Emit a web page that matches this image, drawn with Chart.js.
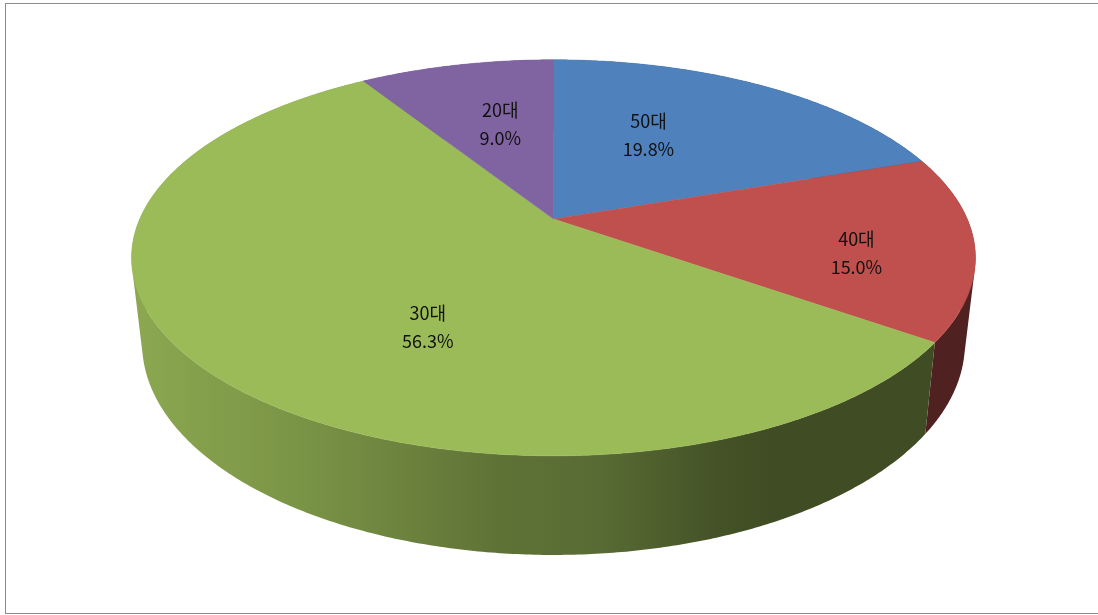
<!DOCTYPE html>
<html>
<head>
<meta charset="utf-8">
<script src="https://cdn.jsdelivr.net/npm/chart.js@4"></script>
<style>
  html, body { margin: 0; background: #fff; overflow: hidden; }
  #frame { position: absolute; left: 5px; top: 3px; right: 0; height: 609px;
           border: 1px solid #8c8c8c; border-right: 0; }
  #graficoEdad { position: absolute; left: 0; top: 0; }
</style>
</head>
<body>
<div id="frame"></div>
<canvas id="graficoEdad" width="1098" height="615"></canvas>
<script>
var categories = ['50대', '40대', '30대', '20대'];
var shares = [19.8, 15.0, 56.3, 9.0];
var sliceColors = ['#4f81bd', '#c0504d', '#9bbb59', '#8064a2'];

// label nudges in px from the point 60% out along each slice
var labelNudge = [[-37, 1], [53, 18], [70, 22], [9, 4]];

// tilt of the disc
var tilt = 0.196;
var squashX = 1.898;
var squashY = 0.8735;
// lower rim of the wall, relative to the top rim
var rimScaleX = 0.975;
var rimScaleY = 1.068;
var rimDrop = 83;

// wall brightness going left to right across the pie
var wallShade = [[130, 0.90], [300, 0.79], [500, 0.61], [600, 0.57], [720, 0.44], [770, 0.41], [980, 0.41]];

function project(el, angle, f) {
    var u = Math.cos(angle) * f, v = Math.sin(angle) * f;
    var w = 1 - tilt * v;
    return {
        x: el.x + el.outerRadius * squashX * u / w,
        y: el.y + el.outerRadius * squashY * v / w
    };
}

function lowerRim(el, angle) {
    var p = project(el, angle, 1);
    return {
        x: el.x + (p.x - el.x) * rimScaleX,
        y: el.y + (p.y - el.y) * rimScaleY + rimDrop
    };
}

function darken(hex, k) {
    var n = parseInt(hex.slice(1), 16);
    return 'rgb(' + Math.round((n >> 16) * k) + ',' + Math.round(((n >> 8) & 255) * k) + ',' + Math.round((n & 255) * k) + ')';
}

function wallGradient(ctx, color) {
    var x0 = wallShade[0][0], x1 = wallShade[wallShade.length - 1][0];
    var g = ctx.createLinearGradient(x0, 0, x1, 0);
    wallShade.forEach(function (s) {
        g.addColorStop((s[0] - x0) / (x1 - x0), darken(color, s[1]));
    });
    return g;
}

// adds one wall quad to the path, always wound the same way
function addQuad(ctx, pts) {
    var area = 0;
    for (var i = 0; i < 4; i++) {
        var n = pts[(i + 1) % 4];
        area += pts[i].x * n.y - n.x * pts[i].y;
    }
    if (area < 0) pts.reverse();
    ctx.moveTo(pts[0].x, pts[0].y);
    for (var j = 1; j < 4; j++) ctx.lineTo(pts[j].x, pts[j].y);
    ctx.closePath();
}

// pie controller that draws its arcs as a thick tilted disc
class Pie3dController extends Chart.PieController {
    draw() {
        var ctx = this.chart.ctx;
        var arcs = this._cachedMeta.data;
        var step = Math.PI / 360;

        arcs.forEach(function (el, i) {
            ctx.fillStyle = wallGradient(ctx, sliceColors[i]);
            ctx.beginPath();
            for (var a = el.startAngle; a < el.endAngle; a += step) {
                var b = Math.min(a + step, el.endAngle);
                addQuad(ctx, [project(el, a, 1), project(el, b, 1), lowerRim(el, b), lowerRim(el, a)]);
            }
            ctx.fill();
        });

        arcs.forEach(function (el, i) {
            ctx.fillStyle = sliceColors[i];
            ctx.strokeStyle = sliceColors[i];
            ctx.lineWidth = 0.5;
            ctx.beginPath();
            ctx.moveTo(el.x, el.y);
            for (var a = el.startAngle; a < el.endAngle; a += step) {
                var p = project(el, a, 1);
                ctx.lineTo(p.x, p.y);
            }
            var last = project(el, el.endAngle, 1);
            ctx.lineTo(last.x, last.y);
            ctx.closePath();
            ctx.fill();
            ctx.stroke();
        });

        ctx.fillStyle = '#111';
        ctx.font = '18px "Noto Sans CJK KR"';
        ctx.textAlign = 'center';
        ctx.textBaseline = 'middle';
        arcs.forEach(function (el, i) {
            var p = project(el, (el.startAngle + el.endAngle) / 2, 0.6);
            var x = p.x + labelNudge[i][0], y = p.y + labelNudge[i][1];
            ctx.fillText(categories[i], x, y - 14);
            ctx.fillText(shares[i].toFixed(1) + '%', x, y + 14);
        });
    }
}
Pie3dController.id = 'pie3d';
Chart.register(Pie3dController);

var ctx = document.getElementById('graficoEdad').getContext('2d');
var myChart = new Chart(ctx, {
    type: 'pie3d',
    data: {
        labels: categories,
        datasets: [{
            data: shares,
            backgroundColor: sliceColors
        }]
    },
    options: {
        responsive: false,
        animation: false,
        events: [],
        layout: { padding: { left: 9, bottom: 177 } },
        plugins: {
            legend: { display: false },
            tooltip: { enabled: false }
        }
    }
});
</script>
</body>
</html>
